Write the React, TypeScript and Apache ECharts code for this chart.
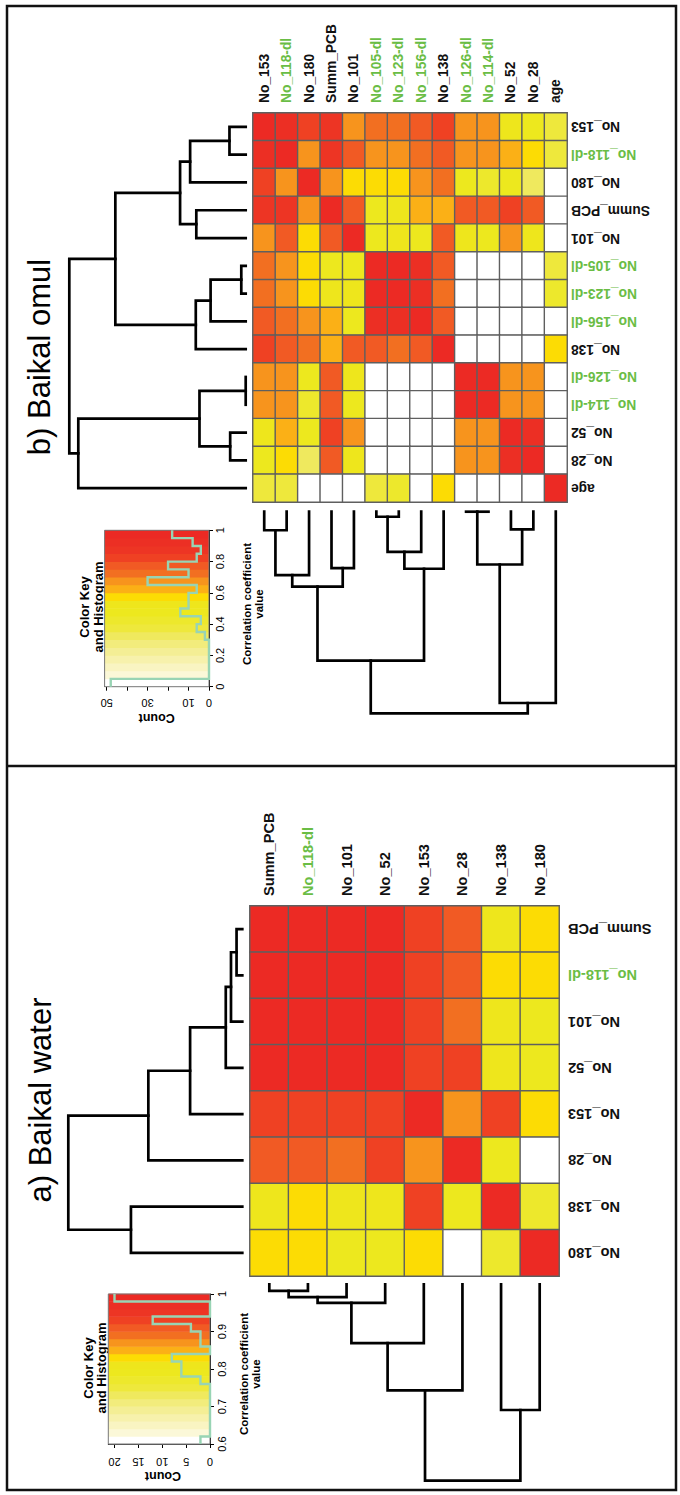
import { useEffect, useRef } from 'react';
import * as echarts from 'echarts';

// ---------- data: b) Baikal omul ----------
const omulNames = ["No_153", "No_118-dl", "No_180", "Summ_PCB", "No_101", "No_105-dl", "No_123-dl", "No_156-dl", "No_138", "No_126-dl", "No_114-dl", "No_52", "No_28", "age"];
const omulMatrix = [
  [1, .93, .82, .87, .68, .72, .73, .78, .81, .67, .67, .52, .47, .36],
  [.93, 1, .68, .88, .76, .69, .68, .71, .77, .66, .66, .62, .57, .38],
  [.82, .68, 1, .69, .58, .57, .58, .67, .72, .46, .43, .48, .32, 0],
  [.87, .88, .69, 1, .79, .49, .51, .63, .64, .76, .77, .83, .755, 0],
  [.68, .76, .58, .79, 1, .46, .53, .47, .78, .52, .48, .68, .54, 0],
  [.72, .69, .57, .49, .46, 1, .98, .92, .77, 0, 0, 0, 0, .39],
  [.73, .68, .58, .51, .53, .98, 1, .91, .74, 0, 0, 0, 0, .42],
  [.78, .71, .67, .63, .47, .92, .91, 1, .79, 0, 0, 0, 0, 0],
  [.81, .77, .72, .64, .78, .77, .74, .79, 1, 0, 0, 0, 0, .56],
  [.67, .66, .46, .76, .52, 0, 0, 0, 0, 1, .99, .66, .67, 0],
  [.67, .66, .43, .77, .48, 0, 0, 0, 0, .99, 1, .66, .67, 0],
  [.52, .62, .48, .83, .68, 0, 0, 0, 0, .66, .66, 1, .92, 0],
  [.47, .57, .32, .755, .54, 0, 0, 0, 0, .67, .67, .92, 1, 0],
  [.36, .38, 0, 0, 0, .39, .42, 0, .56, 0, 0, 0, 0, 1],
];
// merges: [left, right, height]; strings are leaves, numbers refer to earlier merges
const omulMerges: [string | number, string | number, number][] = [
  ["No_153", "No_118-dl", 0.092],
  [0, "No_180", 0.315],
  ["Summ_PCB", "No_101", 0.28],
  [1, 2, 0.372],
  ["No_105-dl", "No_123-dl", 0.025],
  [4, "No_156-dl", 0.199],
  [5, "No_138", 0.283],
  [3, 6, 0.739],
  ["No_126-dl", "No_114-dl", 0.0],
  ["No_52", "No_28", 0.088],
  [8, 9, 0.262],
  [10, "age", 0.949],
  [7, 11, 1.0],
];
const omulKeyRange = [0, 1];
const omulKeyTicks = [0, 0.2, 0.4, 0.6, 0.8, 1];
const omulCountTicks = [0, 10, 20, 30, 40, 50];
const omulCountLabels = [0, 10, 30, 50];

// ---------- data: a) Baikal water ----------
const waterNames = ["Summ_PCB", "No_118-dl", "No_101", "No_52", "No_153", "No_28", "No_138", "No_180"];
const waterMatrix = [
  [1, .995, .993, .99, .93, .91, .81, .83],
  [.995, 1, .99, .988, .93, .905, .835, .83],
  [.993, .99, 1, .987, .935, .89, .805, .79],
  [.99, .988, .987, 1, .93, .925, .81, .785],
  [.93, .93, .935, .93, 1, .87, .925, .825],
  [.91, .905, .89, .925, .87, 1, .79, .61],
  [.81, .835, .805, .81, .925, .79, 1, .77],
  [.83, .83, .79, .785, .825, .61, .77, 1],
];
const waterMerges: [string | number, string | number, number][] = [
  ["Summ_PCB", "No_118-dl", 0.033],
  [0, "No_101", 0.065],
  [1, "No_52", 0.095],
  [2, "No_153", 0.30],
  [3, "No_28", 0.54],
  ["No_138", "No_180", 0.64],
  [4, 5, 1.0],
];
const waterKeyRange = [0.6, 1];
const waterKeyTicks = [0.6, 0.7, 0.8, 0.9, 1];
const waterCountTicks = [0, 5, 10, 15, 20];
const waterCountLabels = [0, 5, 10, 15, 20];

// colour key (20 bands from low to high)
const keyPalette = [
  "#FFFFFF", "#FBF8D8", "#F9F4C2", "#F7F1AC", "#F4EE95", "#F2EC7C",
  "#EFE95E", "#EEE83C", "#EDE82C", "#EDE81E", "#EEE61C", "#FCDC04",
  "#FBB016", "#F7941D", "#F26F21", "#F15A24", "#EF4123", "#ED3524",
  "#EC2F24", "#EC2A24",
];

const FONT = '"Liberation Sans", Arial, sans-serif';
const GREEN = '#6ABD45';
const HIST = '#98D4B4';

function heatData(m: number[][]) {
  const d: number[][] = [];
  m.forEach((row, i) => row.forEach((v, j) => d.push([j, i, v])));
  return d;
}

function histCounts(m: number[][], lo: number, hi: number, n: number) {
  const counts = new Array(n).fill(0);
  const w = (hi - lo) / n;
  m.flat().forEach((v) => {
    let k = Math.floor((v - lo) / w + 1e-9);
    if (k >= n) k = n - 1;
    if (k < 0) k = 0;
    counts[k]++;
  });
  return counts;
}

function dendroItems(names: string[], merges: [string | number, string | number, number][]) {
  const pos: number[] = [];
  const hgt: number[] = [];
  const items: number[][] = [];
  merges.forEach(([a, b, h]) => {
    const pa = typeof a === 'string' ? names.indexOf(a) : pos[a];
    const ha = typeof a === 'string' ? 0 : hgt[a];
    const pb = typeof b === 'string' ? names.indexOf(b) : pos[b];
    const hb = typeof b === 'string' ? 0 : hgt[b];
    items.push([pa, ha, pb, hb, h]);
    pos.push((pa + pb) / 2);
    hgt.push(h);
  });
  return items;
}

type PanelLayout = {
  heat: { left: number; top: number; width: number; height: number };
  rowDendro: { left: number; width: number };
  colDendro: { top: number; height: number };
  key: { left: number; top: number; width: number; height: number; countMax: number };
  labelSize: number;
  colMargin: number;
  rowMargin: number;
  countMargin: number;
  valueMargin: number;
};

function buildPanel(
  gi: number,
  si: number,
  names: string[],
  matrix: number[][],
  merges: [string | number, string | number, number][],
  keyRange: number[],
  keyTicks: number[],
  countTicks: number[],
  countLabels: number[],
  L: PanelLayout
) {
  const n = names.length;
  const nb = keyPalette.length;
  const [lo, hi] = keyRange;
  const w = (hi - lo) / nb;
  const grids = [
    { ...L.heat },
    { left: L.rowDendro.left, width: L.rowDendro.width, top: L.heat.top, height: L.heat.height },
    { left: L.heat.left, width: L.heat.width, top: L.colDendro.top, height: L.colDendro.height },
    { left: L.key.left, top: L.key.top, width: L.key.width, height: L.key.height },
  ];
  const labelColor = (v: string) => (v.indexOf('-dl') >= 0 ? GREEN : '#111');
  const hidden = { show: false };
  const xAxes = [
    {
      gridIndex: gi, type: 'category', data: names, position: 'top', z: 10,
      axisLine: hidden, axisTick: hidden, splitLine: hidden,
      axisLabel: {
        interval: 0, rotate: -90, align: 'left', verticalAlign: 'middle', margin: L.colMargin,
        width: 200, overflow: 'none', hideOverlap: false,
        fontFamily: FONT, fontWeight: 'bold', fontSize: L.labelSize, color: labelColor,
      },
    },
    { gridIndex: gi + 1, type: 'value', min: 0, max: 1, inverse: true, show: false },
    { gridIndex: gi + 2, type: 'value', min: -0.5, max: n - 0.5, show: false },
    {
      gridIndex: gi + 3, type: 'value', min: 0, max: L.key.countMax, inverse: true, position: 'bottom',
      axisLine: { show: true, onZero: false, lineStyle: { color: '#000', width: 1 } },
      axisTick: { show: true, length: 4, customValues: countTicks, lineStyle: { color: '#000' } },
      axisLabel: {
        customValues: countLabels, rotate: 180, align: 'center', verticalAlign: 'bottom',
        margin: L.countMargin, fontFamily: FONT, fontSize: 11, color: '#000',
      },
      splitLine: hidden,
    },
  ];
  const yAxes = [
    {
      gridIndex: gi, type: 'category', data: names, position: 'right', inverse: true, z: 10,
      axisLine: hidden, axisTick: hidden, splitLine: hidden,
      axisLabel: {
        interval: 0, rotate: 180, align: 'right', verticalAlign: 'middle', margin: L.rowMargin,
        width: 200, overflow: 'none', hideOverlap: false,
        fontFamily: FONT, fontWeight: 'bold', fontSize: L.labelSize, color: labelColor,
      },
    },
    { gridIndex: gi + 1, type: 'value', min: -0.5, max: n - 0.5, inverse: true, show: false },
    { gridIndex: gi + 2, type: 'value', min: 0, max: 1, inverse: true, show: false },
    {
      gridIndex: gi + 3, type: 'value', min: lo, max: hi, position: 'right',
      axisLine: { show: true, onZero: false, lineStyle: { color: '#000', width: 1 } },
      axisTick: { show: true, length: 4, customValues: keyTicks, lineStyle: { color: '#000' } },
      axisLabel: {
        customValues: keyTicks, rotate: 90, align: 'center', verticalAlign: 'top',
        margin: L.valueMargin, fontFamily: FONT, fontSize: 11, color: '#000',
      },
      splitLine: hidden,
    },
  ];

  const items = dendroItems(names, merges);
  const dendroStyle = { stroke: '#000', lineWidth: 2.7, fill: null, lineJoin: 'miter', lineCap: 'square' };
  const counts = histCounts(matrix, lo, hi, nb);
  const stairs: number[][] = [];
  counts.forEach((c, k) => {
    stairs.push([c, lo + k * w]);
    stairs.push([c, lo + (k + 1) * w]);
  });
  const bands = keyPalette.map((_, k) => [lo + k * w, lo + (k + 1) * w, k]);
  const cMax = L.key.countMax;

  const series = [
    {
      type: 'heatmap', xAxisIndex: gi, yAxisIndex: gi, data: heatData(matrix), silent: true,
      itemStyle: { borderColor: '#5f5f5f', borderWidth: 1.4 }, emphasis: { disabled: true },
    },
    {
      type: 'custom', xAxisIndex: gi + 1, yAxisIndex: gi + 1, data: items, silent: true, clip: false,
      renderItem: (_p: any, api: any) => {
        const pa = api.value(0), ha = api.value(1), pb = api.value(2), hb = api.value(3), h = api.value(4);
        return {
          type: 'polyline',
          shape: { points: [api.coord([ha, pa]), api.coord([h, pa]), api.coord([h, pb]), api.coord([hb, pb])] },
          style: dendroStyle,
        };
      },
    },
    {
      type: 'custom', xAxisIndex: gi + 2, yAxisIndex: gi + 2, data: items, silent: true, clip: false,
      renderItem: (_p: any, api: any) => {
        const pa = api.value(0), ha = api.value(1), pb = api.value(2), hb = api.value(3), h = api.value(4);
        return {
          type: 'polyline',
          shape: { points: [api.coord([pa, ha]), api.coord([pa, h]), api.coord([pb, h]), api.coord([pb, hb])] },
          style: dendroStyle,
        };
      },
    },
    {
      type: 'custom', xAxisIndex: gi + 3, yAxisIndex: gi + 3, data: bands, silent: true, clip: false, z: 1,
      renderItem: (_p: any, api: any) => {
        const b0 = api.value(0), b1 = api.value(1), k = api.value(2);
        const p1 = api.coord([cMax, b1]);
        const p2 = api.coord([0, b0]);
        return {
          type: 'rect',
          shape: {
            x: Math.min(p1[0], p2[0]), y: Math.min(p1[1], p2[1]) - 0.3,
            width: Math.abs(p2[0] - p1[0]), height: Math.abs(p2[1] - p1[1]) + 0.6,
          },
          style: { fill: keyPalette[k] },
        };
      },
    },
    {
      type: 'custom', xAxisIndex: gi + 3, yAxisIndex: gi + 3, data: [[0, lo]], silent: true, clip: false, z: 2,
      renderItem: (_p: any, api: any) => {
        const p1 = api.coord([cMax, hi]);
        const p2 = api.coord([0, lo]);
        return {
          type: 'rect',
          shape: { x: p1[0], y: p1[1], width: p2[0] - p1[0], height: p2[1] - p1[1] },
          style: { fill: null, stroke: '#777', lineWidth: 1 },
        };
      },
    },
    {
      type: 'line', xAxisIndex: gi + 3, yAxisIndex: gi + 3, data: stairs, silent: true, z: 3,
      showSymbol: false, symbol: 'none', clip: false,
      lineStyle: { color: HIST, width: 2.4, join: 'miter' },
    },
  ];
  const pieces = keyPalette.map((color, k) =>
    k === nb - 1 ? { gte: lo + k * w, lte: hi + 1e-9, color } : { gte: lo + k * w, lt: lo + (k + 1) * w, color }
  );
  const visualMap = { type: 'piecewise', show: false, seriesIndex: si, dimension: 2, pieces };
  return { grids, xAxes, yAxes, series, visualMap };
}

const omulLayout: PanelLayout = {
  heat: { left: 253, top: 113, width: 314, height: 389 },
  rowDendro: { left: 69.3, width: 176.4 },
  colDendro: { top: 511.7, height: 201.6 },
  key: { left: 104.6, top: 530.3, width: 104.4, height: 156.4, countMax: 51 },
  labelSize: 13.8, colMargin: 10, rowMargin: 4, countMargin: 11, valueMargin: 5,
};
const waterLayout: PanelLayout = {
  heat: { left: 250, top: 906, width: 309, height: 370 },
  rowDendro: { left: 68.3, width: 174 },
  colDendro: { top: 1284.3, height: 196.4 },
  key: { left: 108.3, top: 1294, width: 101.7, height: 150, countMax: 21.3 },
  labelSize: 14.6, colMargin: 10, rowMargin: 9, countMargin: 12, valueMargin: 6,
};

function txt(text: string, x: number, y: number, size: number, weight: string, rotation: number) {
  return {
    type: 'text', x, y, rotation, silent: true,
    style: { text, fill: '#000', fontFamily: FONT, fontSize: size, fontWeight: weight, align: 'center', verticalAlign: 'middle' },
  };
}

export default function App() {
  const ref = useRef<HTMLDivElement>(null);
  useEffect(() => {
    if (!ref.current) return;
    const chart = echarts.init(ref.current, undefined, { renderer: 'svg' });
    const top = buildPanel(0, 0, omulNames, omulMatrix, omulMerges, omulKeyRange, omulKeyTicks, omulCountTicks, omulCountLabels, omulLayout);
    const bot = buildPanel(4, 6, waterNames, waterMatrix, waterMerges, waterKeyRange, waterKeyTicks, waterCountTicks, waterCountLabels, waterLayout);
    const R = Math.PI / 2;
    chart.setOption({
      animation: false,
      backgroundColor: '#fff',
      grid: [...top.grids, ...bot.grids],
      xAxis: [...top.xAxes, ...bot.xAxes],
      yAxis: [...top.yAxes, ...bot.yAxes],
      visualMap: [top.visualMap, bot.visualMap],
      series: [...top.series, ...bot.series],
      graphic: [
        { type: 'rect', silent: true, shape: { x: 7, y: 6, width: 669, height: 1484 }, style: { fill: null, stroke: '#111', lineWidth: 2.5 } },
        { type: 'line', silent: true, shape: { x1: 7, y1: 766, x2: 676, y2: 766 }, style: { stroke: '#111', lineWidth: 2.5 } },
        txt('b) Baikal omul', 39, 357, 31, 'normal', R),
        txt('a) Baikal water', 40, 1100, 31, 'normal', R),
        txt('Color Key', 84, 607, 13, 'bold', R),
        txt('and Histogram', 98.3, 607, 13, 'bold', R),
        txt('Correlation coefficient', 247.3, 604, 11.5, 'bold', R),
        txt('value', 259, 604, 11.5, 'bold', R),
        txt('Count', 156.7, 718.3, 12.5, 'bold', Math.PI),
        txt('Color Key', 88, 1368, 13, 'bold', R),
        txt('and Histogram', 101.7, 1368, 13, 'bold', R),
        txt('Correlation coefficient', 244.3, 1374, 11.5, 'bold', R),
        txt('value', 255.5, 1374, 11.5, 'bold', R),
        txt('Count', 163, 1476, 12.5, 'bold', Math.PI),
      ],
    });
    return () => chart.dispose();
  }, []);
  return <div ref={ref} style={{ position: 'absolute', left: 0, top: 0, width: 680, height: 1495 }} />;
}
